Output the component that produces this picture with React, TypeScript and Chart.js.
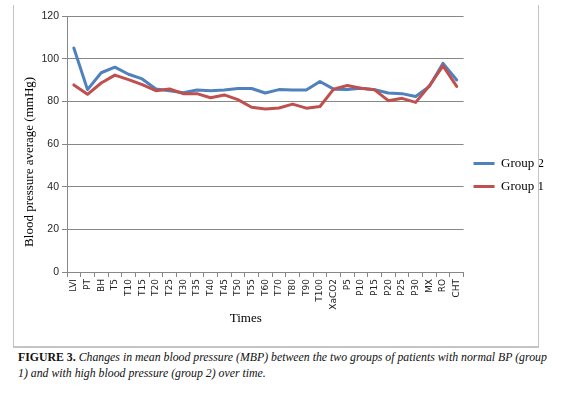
import React, { useEffect, useRef } from "react";
import { Chart, registerables } from "chart.js";

Chart.register(...registerables);

const categories = [
  "LVI", "PT", "BH", "T5", "T10", "T15", "T20", "T25", "T30", "T35",
  "T40", "T45", "T50", "T55", "T60", "T70", "T80", "T90", "T100", "XaCO2",
  "P5", "P10", "P15", "P20", "P25", "P30", "MX", "RO", "CHT",
];

const group2 = [
  105, 85.5, 93.4, 96, 92.7, 90.5, 85.8, 85, 84, 85.3,
  85, 85.3, 86, 86, 83.9, 85.5, 85.3, 85.3, 89.3, 85.7,
  85.6, 86.1, 85.4, 83.9, 83.6, 82.3, 87, 97.8, 90,
];

const group1 = [
  87.7, 83.3, 88.6, 92.3, 90.2, 87.8, 85, 85.8, 83.6, 83.6,
  81.7, 83, 80.8, 77.2, 76.4, 76.9, 78.7, 76.8, 77.6, 85.7,
  87.4, 86.1, 85.4, 80.3, 81.4, 79.5, 87.3, 96.6, 87,
];

const seriesNames = ["Group 2", "Group 1"];
const yMin = 0;
const yMax = 120;
const yStep = 20;

const yTitle = "Blood pressure average (mmHg)";
const xTitle = "Times";

const BLUE = "#4F81BD";
const RED = "#C0504D";
const GRID = "#878787";

export default function App() {
  const ref = useRef<HTMLCanvasElement | null>(null);

  useEffect(() => {
    if (!ref.current) return;
    const chart = new Chart(ref.current, {
      type: "line",
      data: {
        labels: categories,
        datasets: [
          {
            label: seriesNames[0],
            data: group2,
            borderColor: BLUE,
            backgroundColor: BLUE,
            borderWidth: 3,
            pointRadius: 0,
            tension: 0,
            borderJoinStyle: "round",
            borderCapStyle: "round",
            order: 1,
          },
          {
            label: seriesNames[1],
            data: group1,
            borderColor: RED,
            backgroundColor: RED,
            borderWidth: 3,
            pointRadius: 0,
            tension: 0,
            borderJoinStyle: "round",
            borderCapStyle: "round",
            order: 0,
          },
        ],
      },
      options: {
        responsive: false,
        animation: false,
        devicePixelRatio: 1,
        layout: { padding: { left: 0, right: 21, top: 10, bottom: 12 } },
        plugins: {
          tooltip: { enabled: false },
          legend: {
            position: "right",
            labels: {
              boxWidth: 21,
              boxHeight: 3,
              padding: 10,
              color: "#000",
              font: { family: "'Liberation Serif', serif", size: 13 },
              sort: (a: any, b: any) => a.datasetIndex - b.datasetIndex,
              generateLabels: (c: any) => {
                const items = Chart.defaults.plugins.legend.labels.generateLabels(c);
                return items.map((it: any) => ({
                  ...it,
                  fillStyle: it.strokeStyle,
                  lineWidth: 0,
                }));
              },
            },
          },
        },
        scales: {
          x: {
            type: "category",
            offset: true,
            grid: {
              display: true,
              drawOnChartArea: false,
              drawTicks: true,
              tickLength: 5,
              offset: true,
              color: GRID,
            },
            border: { display: true, color: GRID },
            ticks: {
              autoSkip: false,
              minRotation: 90,
              maxRotation: 90,
              padding: 2,
              color: "#222",
              font: { family: "'DejaVu Sans', sans-serif", size: 9 },
            },
            title: {
              display: true,
              text: xTitle + "            ",
              color: "#000",
              font: { family: "'Liberation Serif', serif", size: 13 },
              padding: { top: 0, bottom: 8 },
            },
            afterFit: (s: any) => {
              s.height = 62;
            },
          },
          y: {
            min: yMin,
            max: yMax,
            ticks: {
              stepSize: yStep,
              padding: 3,
              color: "#262626",
              font: { family: "'Liberation Sans', sans-serif", size: 10.5 },
            },
            grid: {
              color: GRID,
              lineWidth: 1,
              tickLength: 5,
            },
            border: { display: true, color: GRID },
            title: {
              display: true,
              text: yTitle + "           ",
              color: "#000",
              font: { family: "'Liberation Serif', serif", size: 13 },
              padding: { top: 8, bottom: 0 },
            },
            afterFit: (s: any) => {
              s.width = 53;
            },
          },
        },
      },
    });
    return () => chart.destroy();
  }, []);

  return (
    <div
      style={{
        position: "absolute",
        left: 0,
        top: 0,
        width: 575,
        height: 394,
        background: "#fff",
        overflow: "hidden",
      }}
    >
      <canvas
        ref={ref}
        width={561}
        height={340}
        style={{ position: "absolute", left: 14, top: 6, width: 561, height: 340 }}
      />
      <div
        style={{
          position: "absolute",
          left: 13,
          top: 5,
          width: 526,
          height: 343,
          boxSizing: "border-box",
          borderLeft: "1px solid #c4c4c4",
          borderRight: "1px solid #c4c4c4",
          borderBottom: "2px solid #c4c4c4",
          pointerEvents: "none",
        }}
      />
      <div
        style={{
          position: "absolute",
          left: 18,
          top: 349,
          width: 557,
          fontFamily: "'Liberation Serif', serif",
          fontSize: 11.8,
          lineHeight: "16px",
          fontStyle: "italic",
          color: "#111",
          whiteSpace: "nowrap",
        }}
      >
        <span style={{ fontStyle: "normal", fontWeight: "bold" }}>FIGURE 3.</span> Changes in mean blood
        pressure (MBP) between the two groups of patients with normal BP (group
        <br />
        1) and with high blood pressure (group 2) over time.
      </div>
    </div>
  );
}
